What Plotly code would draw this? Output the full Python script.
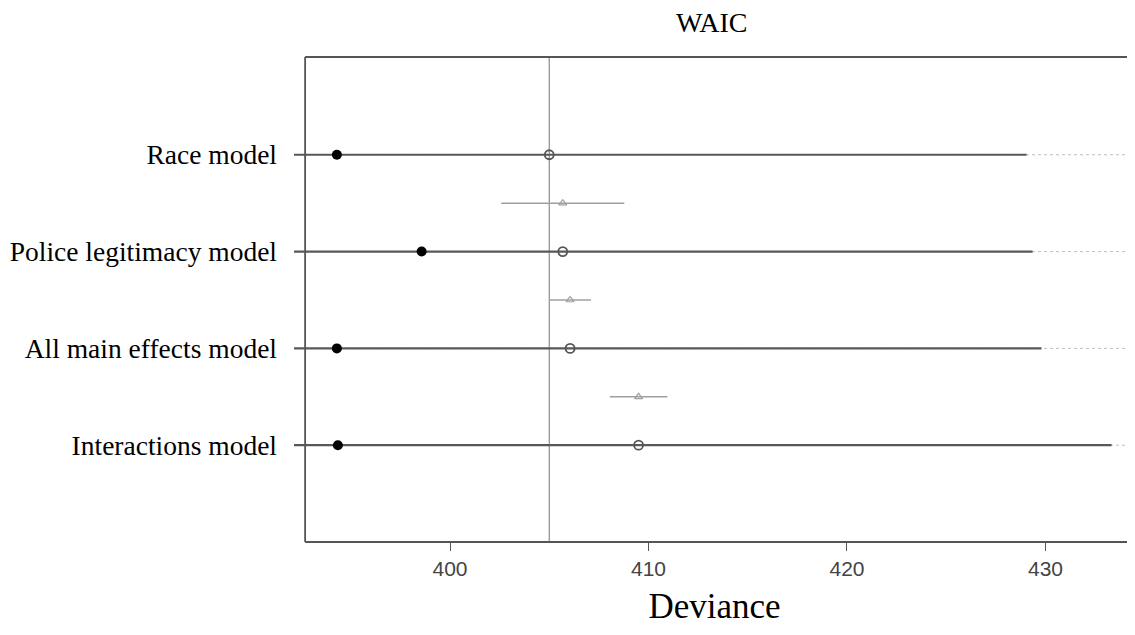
import plotly.graph_objects as go

models = ["Race model", "Police legitimacy model", "All main effects model", "Interactions model"]
ypos = [4, 3, 2, 1]
waic = [405.0, 405.68, 406.05, 409.5]
se = [24.05, 23.67, 23.75, 23.83]
deviance = [394.3, 398.57, 394.3, 394.35]
# dWAIC standard errors for models 2..4 (drawn between rows)
dse_models_idx = [1, 2, 3]
dse = [3.1, 1.05, 1.45]
dse_ypos = [3.5, 2.5, 1.5]
xticks = [400, 410, 420, 430]

x0, x1 = 392.14, 434.51
box_left = 392.7

fig = go.Figure()

# dotted guide lines
for y in ypos:
    fig.add_trace(go.Scatter(x=[x0, x1], y=[y, y], mode="lines",
                             line=dict(color="#bdbdbd", width=1, dash="dot"),
                             hoverinfo="skip", showlegend=False))

# WAIC +/- SE segments
for w, s, y in zip(waic, se, ypos):
    fig.add_trace(go.Scatter(x=[w - s, w + s], y=[y, y], mode="lines",
                             line=dict(color="#595959", width=2.2),
                             hoverinfo="skip", showlegend=False))

# dSE segments
for i, d, y in zip(dse_models_idx, dse, dse_ypos):
    fig.add_trace(go.Scatter(x=[waic[i] - d, waic[i] + d], y=[y, y], mode="lines",
                             line=dict(color="#a0a0a0", width=1.5),
                             hoverinfo="skip", showlegend=False))

# triangles
fig.add_trace(go.Scatter(x=[waic[i] for i in dse_models_idx], y=dse_ypos, mode="markers",
                         marker=dict(symbol="triangle-up-open", size=7,
                                     color="#a0a0a0", line=dict(width=1.2, color="#a0a0a0")),
                         showlegend=False))

# in-sample deviance (filled)
fig.add_trace(go.Scatter(x=deviance, y=ypos, mode="markers",
                         marker=dict(symbol="circle", size=10, color="black"),
                         showlegend=False))

# WAIC (open)
fig.add_trace(go.Scatter(x=waic, y=ypos, mode="markers",
                         marker=dict(symbol="circle-open", size=9, color="#555555",
                                     line=dict(width=1.8, color="#555555")),
                         showlegend=False))

shapes = [
    # vertical reference line at best WAIC
    dict(type="line", xref="x", yref="paper", x0=waic[0], x1=waic[0], y0=0, y1=1,
         line=dict(color="#8c8c8c", width=1.2), layer="below"),
    # box (left, top, bottom)
    dict(type="line", xref="x", yref="paper", x0=box_left, x1=box_left, y0=0, y1=1,
         line=dict(color="#555555", width=1.8)),
    dict(type="line", xref="x", yref="paper", x0=box_left, x1=x1, y0=1, y1=1,
         line=dict(color="#555555", width=1.8)),
    dict(type="line", xref="x", yref="paper", x0=box_left, x1=x1, y0=0, y1=0,
         line=dict(color="#555555", width=1.8)),
]

fig.update_layout(
    width=1135, height=635,
    margin=dict(l=286, r=8, t=49, b=101),
    paper_bgcolor="white", plot_bgcolor="white",
    shapes=shapes,
    showlegend=False,
    title=dict(text="WAIC", x=0.620, xanchor="center", y=0.978, yanchor="middle",
               font=dict(family="Liberation Serif", size=28, color="black")),
    xaxis=dict(range=[x0, x1], tickvals=xticks, ticks="outside", ticklen=8,
               tickcolor="#555555", tickwidth=1.2, showgrid=False, zeroline=False,
               showline=False, automargin=False,
               tickfont=dict(family="Liberation Sans", size=21, color="#444444"),
               title=dict(text="Deviance", standoff=14,
                          font=dict(family="Liberation Serif", size=35, color="black"))),
    yaxis=dict(range=[0, 5.01], tickvals=ypos, ticktext=models, ticks="",
               ticklabelstandoff=16, showgrid=False, zeroline=False, showline=False,
               automargin=False,
               tickfont=dict(family="Liberation Serif", size=27.5, color="black")),
)

fig.write_html("out.html")
